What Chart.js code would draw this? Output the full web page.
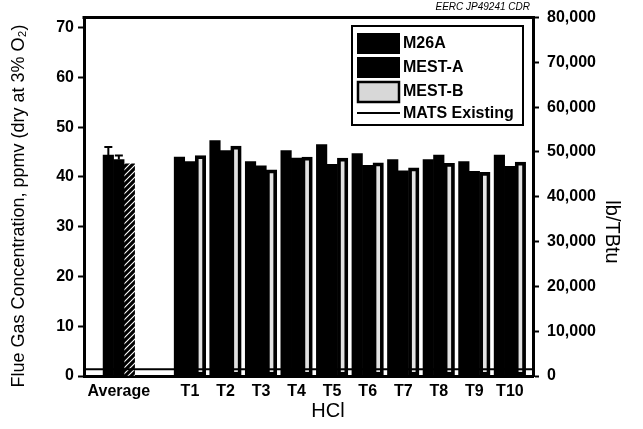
<!DOCTYPE html>
<html><head><meta charset="utf-8">
<script src="https://cdn.jsdelivr.net/npm/chart.js@4.4.1/dist/chart.umd.min.js"></script>
<style>html,body{margin:0;padding:0;background:#fff}canvas{display:block}</style>
</head><body>
<canvas id="c" width="643" height="429"></canvas>
<script>
// ---- data ----
const categories = ['Average','T1','T2','T3','T4','T5','T6','T7','T8','T9','T10'];
const categoryPositions = [0,2,3,4,5,6,7,8,9,10,11];
const m26a  = [44.4, 44.0, 47.3, 43.1, 45.3, 46.5, 44.7, 43.5, 43.5, 43.1, 44.4];
const mestA = [43.5, 43.1, 45.3, 42.2, 43.8, 42.5, 42.3, 41.2, 44.4, 41.1, 42.1];
const mestB = [42.6, 44.3, 46.2, 41.4, 44.0, 43.8, 42.8, 41.8, 42.7, 40.9, 43.0];
const averageErrors = [1.6, 0.8, 0];          // M26A, MEST-A, MEST-B (Average only)
const matsExisting = 1500;                     // lb/TBtu
const leftTicks  = [0,10,20,30,40,50,60,70];
const rightTicks = [0,10000,20000,30000,40000,50000,60000,70000,80000];
const seriesNames = ['M26A','MEST-A','MEST-B','MATS Existing'];
const leftTitle = 'Flue Gas Concentration, ppmv (dry at 3% O\u2082)';
const rightTitle = 'lb/TBtu';
const xTitle = 'HCl';
const stamp = 'EERC JP49241 CDR';

const FONT = '"Liberation Sans", Arial, sans-serif';
const X_MIN = -0.98, X_MAX = 11.65;

// hatch pattern for the Average MEST-B bar
function hatch(){
  const p = document.createElement('canvas'); p.width = 6; p.height = 6;
  const g = p.getContext('2d');
  g.fillStyle = '#000'; g.fillRect(0,0,6,6);
  g.strokeStyle = '#fff'; g.lineWidth = 1.1;
  g.beginPath(); g.moveTo(0,6); g.lineTo(6,0); g.moveTo(-3,3); g.lineTo(3,-3); g.moveTo(3,9); g.lineTo(9,3); g.stroke();
  return g.createPattern(p,'repeat');
}
const hatchPattern = hatch();
const LIGHT = '#e2e2e2';

const toPts = arr => arr.map((v,i)=>({x: categoryPositions[i], y: v}));

const overlay = {
  id: 'overlay',
  afterDatasetsDraw(chart){
    const ctx = chart.ctx, y = chart.scales.y;
    ctx.save();
    [0,1,2].forEach(di=>{
      const err = averageErrors[di]; if (!err) return;
      const el = chart.getDatasetMeta(di).data[0];
      const val = chart.data.datasets[di].data[0].y;
      const yt = y.getPixelForValue(val + err), yb = y.getPixelForValue(val);
      ctx.strokeStyle = '#000'; ctx.lineWidth = 2;
      ctx.beginPath(); ctx.moveTo(el.x, yb); ctx.lineTo(el.x, yt);
      ctx.moveTo(el.x - 4, yt); ctx.lineTo(el.x + 4, yt); ctx.stroke();
    });
    ctx.restore();
  },
  afterDraw(chart){
    const ctx = chart.ctx, ca = chart.chartArea;
    ctx.save();
    ctx.strokeStyle = '#000'; ctx.lineWidth = 3;
    ctx.beginPath(); ctx.moveTo(ca.left - 1.5, ca.top); ctx.lineTo(ca.right + 1.5, ca.top); ctx.stroke();

    // legend box
    const lx = 352, ly = 26, lw = 171, lh = 99;
    ctx.lineWidth = 2; ctx.strokeRect(lx, ly, lw, lh);
    const sx = 357, sw = 43;
    ctx.fillStyle = '#000';
    ctx.fillRect(sx, 33, sw, 21);
    ctx.fillRect(sx, 57, sw, 21);
    ctx.fillStyle = '#d8d8d8'; ctx.fillRect(sx+1, 82, sw-2, 20);
    ctx.lineWidth = 2.5; ctx.strokeRect(sx+1, 82, sw-2, 20);
    ctx.lineWidth = 2; ctx.beginPath(); ctx.moveTo(sx, 113); ctx.lineTo(sx+sw, 113); ctx.stroke();
    ctx.fillStyle = '#000'; ctx.font = 'bold 16px ' + FONT; ctx.textBaseline = 'middle'; ctx.textAlign = 'left';
    const ys = [44, 68, 92, 114];
    seriesNames.forEach((n,i)=> ctx.fillText(n, 403, ys[i]));

    // axis titles
    ctx.font = '18px ' + FONT; ctx.textAlign = 'center';
    ctx.save(); ctx.translate(19, 206); ctx.rotate(-Math.PI/2); ctx.fillText(leftTitle, 0, 0); ctx.restore();
    ctx.font = '20px ' + FONT;
    ctx.save(); ctx.translate(612, 232); ctx.rotate(Math.PI/2); ctx.fillText(rightTitle, 0, 0); ctx.restore();
    ctx.fillText(xTitle, 328, 411);
    ctx.font = 'italic 10px ' + FONT; ctx.textAlign = 'right';
    ctx.fillText(stamp, 530, 7);
    ctx.restore();
  }
};

const tickFont = {family: FONT, size: 16, weight: 'bold'};

new Chart(document.getElementById('c'), {
  type: 'bar',
  data: {
    datasets: [
      { label: seriesNames[0], data: toPts(m26a), backgroundColor: '#000', borderWidth: 0, barThickness: 10.5, yAxisID: 'y', order: 1 },
      { label: seriesNames[1], data: toPts(mestA), backgroundColor: '#000', borderWidth: 0, barThickness: 10.5, yAxisID: 'y', order: 1 },
      { label: seriesNames[2], data: toPts(mestB),
        backgroundColor: c => c.dataIndex === 0 ? hatchPattern : LIGHT,
        borderColor: '#000', borderWidth: c => c.dataIndex === 0 ? 0 : 3.75,
        borderSkipped: false, barThickness: 10.5, yAxisID: 'y', order: 1 },
      { type: 'line', label: seriesNames[3], data: [{x: X_MIN, y: matsExisting}, {x: X_MAX, y: matsExisting}],
        borderColor: '#000', borderWidth: 2, pointRadius: 0, yAxisID: 'y2', order: 0 }
    ]
  },
  options: {
    responsive: false, animation: false, devicePixelRatio: 1,
    layout: { padding: { top: 15, left: 0, right: 0, bottom: 0 } },
    plugins: { legend: { display: false }, tooltip: { enabled: false } },
    scales: {
      x: {
        type: 'linear', min: X_MIN, max: X_MAX, offset: false,
        afterBuildTicks: s => { s.ticks = categoryPositions.map(v => ({value: v})); },
        afterFit: s => { s.height = 53; },
        ticks: { font: tickFont, color: '#000', padding: 6, maxRotation: 0, autoSkip: false,
          callback: v => { const i = categoryPositions.indexOf(v); return i >= 0 ? categories[i] : ''; } },
        grid: { display: false, drawTicks: false },
        border: { display: true, color: '#000', width: 3 }
      },
      y: {
        position: 'left', min: 0, max: 72,
        afterBuildTicks: s => { s.ticks = leftTicks.map(v => ({value: v})); },
        afterFit: s => { s.width = 84; },
        ticks: { font: tickFont, color: '#000', padding: 4 },
        grid: { drawOnChartArea: false, drawTicks: true, tickLength: 6, tickWidth: 2, tickColor: '#000' },
        border: { display: true, color: '#000', width: 3 }
      },
      y2: {
        position: 'right', min: 0, max: 80000,
        afterBuildTicks: s => { s.ticks = rightTicks.map(v => ({value: v})); },
        afterFit: s => { s.width = 110; },
        ticks: { font: tickFont, color: '#000', padding: 8, callback: v => v.toLocaleString('en-US') },
        grid: { drawOnChartArea: false, drawTicks: true, tickLength: 6, tickWidth: 2, tickColor: '#000' },
        border: { display: true, color: '#000', width: 3 }
      }
    }
  },
  plugins: [overlay]
});
</script>
</body></html>
